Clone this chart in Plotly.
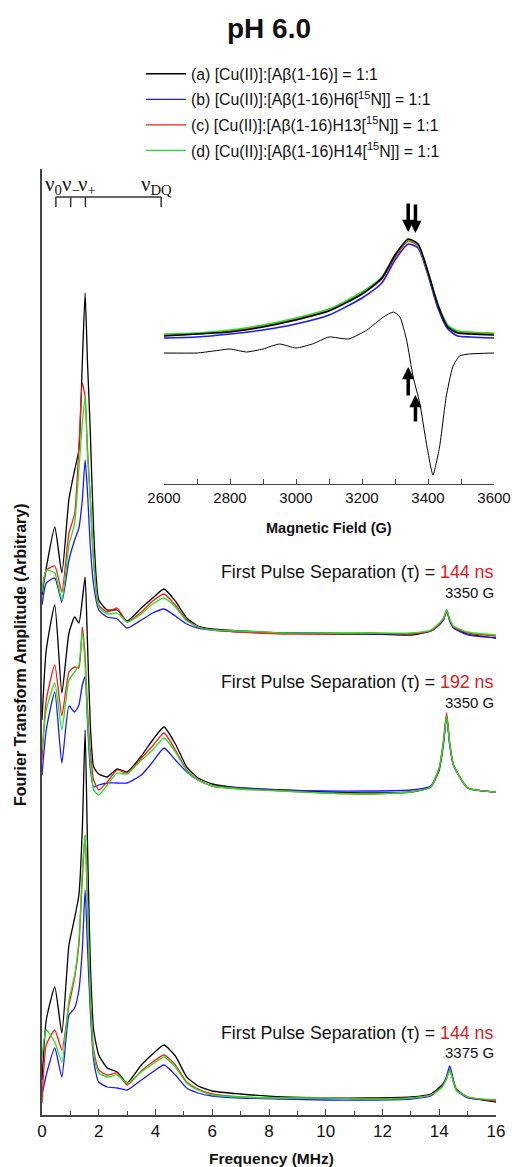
import plotly.graph_objects as go

# ---------------- data (arbitrary amplitude units) ----------------
freq_3350 = [0, 0.15, 0.45, 0.7, 0.95, 1.15, 1.3, 1.42, 1.52, 1.6, 1.7, 1.82, 2.0, 2.3, 2.65, 3.0,
             3.5, 3.9, 4.3, 4.7, 5.1, 5.5, 6.0, 7.0, 8.5, 10.0, 11.5, 13.0, 13.7, 14.0, 14.15, 14.26, 14.37,
             14.5, 15.0, 16.0]
freq_3375 = [0, 0.15, 0.45, 0.7, 0.95, 1.15, 1.3, 1.42, 1.52, 1.6, 1.7, 1.82, 2.0, 2.3, 2.65, 3.0,
             3.5, 3.9, 4.3, 4.7, 5.1, 5.5, 6.0, 7.0, 8.5, 10.0, 11.5, 13.0, 13.7, 14.1, 14.25, 14.37, 14.5,
             14.6, 15.0, 16.0]

# tau = 144 ns, 3350 G
s144_a = [520, 547, 588, 542, 616, 645, 665, 752, 822, 755, 685, 585, 515, 505, 505, 494, 507, 517, 526, 514, 497, 489, 486, 484, 482, 481, 481, 480, 484, 491, 496, 505, 495, 488, 481, 477]
s144_b = [510, 532, 537, 513, 555, 575, 587, 615, 655, 625, 570, 530, 505, 498, 496, 487, 495, 502, 506, 499, 491, 487, 485, 483, 482, 482, 481, 481, 484, 490, 495, 504, 494, 487, 480, 477]
s144_c = [525, 545, 549, 523, 582, 601, 668, 732, 718, 668, 618, 552, 510, 503, 507, 493, 503, 514, 521, 510, 495, 488, 485, 483, 481, 481, 482, 481, 484, 491, 496, 504, 495, 488, 482, 479]
s144_d = [523, 545, 542, 515, 570, 592, 645, 692, 718, 660, 618, 555, 508, 501, 502, 493, 501, 511, 517, 508, 494, 488, 485, 484, 482, 482, 482, 482, 485, 492, 497, 505, 496, 489, 483, 480]

# tau = 192 ns, 3350 G
s192_a = [395, 465, 510, 422, 482, 498, 492, 515, 538, 475, 392, 348, 341, 338, 346, 343, 359, 375, 388, 371, 348, 337, 331, 327, 325, 323, 322, 323, 328, 345, 372, 400, 370, 350, 327, 323]
s192_b = [340, 385, 423, 352, 409, 403, 410, 430, 438, 395, 347, 328, 330, 332, 332, 332, 340, 353, 367, 355, 343, 335, 329, 327, 325, 324, 324, 325, 329, 347, 372, 398, 370, 350, 327, 323]
s192_c = [355, 415, 450, 399, 443, 448, 447, 488, 458, 408, 365, 335, 325, 333, 345, 342, 357, 369, 382, 365, 345, 335, 329, 326, 324, 322, 321, 323, 328, 347, 375, 402, 372, 350, 327, 323]
s192_d = [365, 405, 432, 385, 435, 443, 450, 483, 450, 400, 355, 325, 320, 330, 342, 341, 355, 365, 377, 363, 344, 335, 329, 326, 324, 322, 321, 323, 328, 347, 374, 399, 371, 350, 327, 323]

# tau = 144 ns, 3375 G
s3375_a = [35, 95, 128, 82, 170, 197, 220, 285, 385, 275, 155, 85, 60, 47, 43, 32, 50, 61, 70, 59, 38, 29, 24, 21, 18, 17, 17, 18, 21, 30, 37, 45, 34, 26, 18, 13]
s3375_b = [20, 40, 67, 38, 100, 107, 125, 165, 225, 170, 105, 55, 33, 28, 27, 25, 35, 43, 50, 40, 27, 22, 19, 17, 16, 15, 15, 16, 19, 29, 38, 49, 35, 25, 17, 15]
s3375_c = [12, 70, 85, 65, 110, 137, 170, 235, 280, 215, 125, 65, 45, 40, 42, 30, 44, 53, 60, 50, 33, 26, 21, 18, 17, 17, 16, 17, 20, 28, 36, 45, 33, 25, 18, 14]
s3375_d = [58, 85, 73, 53, 115, 140, 175, 245, 280, 210, 120, 60, 42, 38, 40, 32, 43, 51, 58, 48, 32, 25, 20, 18, 17, 17, 16, 17, 20, 28, 36, 45, 33, 25, 18, 15]

# inset: field-swept echo (absorption) and its derivative
field_abs = [2600, 2700, 2800, 2900, 3000, 3100, 3200, 3260, 3300, 3340, 3370, 3400, 3430, 3460, 3490, 3530, 3600]
abs_a = [148, 150, 152, 157, 164, 173, 190, 206, 229, 245, 240, 212, 179, 157, 151, 150, 149]
abs_b = [146, 147, 150, 154, 160, 169, 186, 201, 224, 240, 236, 209, 176, 155, 148, 147, 146]
abs_c = [149, 150, 153, 158, 165, 174, 190, 205, 227, 243, 238, 211, 179, 158, 152, 151, 150]
abs_d = [150, 151, 154, 159, 166, 175, 192, 207, 229, 244, 239, 212, 180, 159, 153, 152, 151]
field_der = [2600, 2700, 2750, 2800, 2850, 2900, 2950, 3000, 3050, 3100, 3160, 3215, 3265, 3295, 3315,
             3335, 3355, 3375, 3395, 3415, 3435, 3455, 3475, 3495, 3525, 3600]
der_a = [131, 131, 133, 135, 132, 135, 140, 136, 140, 147, 145, 154, 167, 172, 167, 144, 107, 81, 41, 9, 37, 87, 117, 128, 130, 131]

# arrows in inset (field, tail value, head value)
arrow_field = [3340, 3362, 3340, 3362]
arrow_tail = [282, 281, 87, 61]
arrow_head = [252, 251, 117, 89]

nu_names = ["ν<sub>0</sub>", "ν<sub>−</sub>", "ν<sub>+</sub>", "ν<sub>DQ</sub>"]
nu_freqs = [0.49, 1.01, 1.53, 4.2]

series_names = ["(a) [Cu(II)]:[Aβ(1-16)] = 1:1",
                "(b) [Cu(II)]:[Aβ(1-16)H6[<sup>15</sup>N]] = 1:1",
                "(c) [Cu(II)]:[Aβ(1-16)H13[<sup>15</sup>N]] = 1:1",
                "(d) [Cu(II)]:[Aβ(1-16)H14[<sup>15</sup>N]] = 1:1"]
colors = ["#000000", "#1a1aff", "#ff1a1a", "#1ee61e"]

# ---------------- figure ----------------
W, H = 515, 1167
ML, MR, MT, MB = 42, 19, 169, 52
PW, PH = W - ML - MR, H - MT - MB


def px_x(p):
    return (p - ML) / PW


def px_y(p):
    return (H - MB - p) / PH


fig = go.Figure()
FONT = "Liberation Sans, Arial, sans-serif"

spectra = [(freq_3350, [s144_a, s144_b, s144_c, s144_d]),
           (freq_3350, [s192_a, s192_b, s192_c, s192_d]),
           (freq_3375, [s3375_a, s3375_b, s3375_c, s3375_d])]
for si, (fx, group) in enumerate(spectra):
    for k, ys in enumerate(group):
        fig.add_trace(go.Scatter(
            x=fx, y=ys, mode="lines", name=series_names[k],
            line=dict(color=colors[k], width=1.3, shape="spline", smoothing=0.5),
            legendgroup=str(k), showlegend=(si == 0), hoverinfo="skip",
            xaxis="x", yaxis="y"))

# inset
for k in [1, 2, 3, 0]:
    fig.add_trace(go.Scatter(x=field_abs, y=[abs_a, abs_b, abs_c, abs_d][k], mode="lines",
                             line=dict(color=colors[k], width=1.6, shape="spline", smoothing=0.6),
                             showlegend=False, xaxis="x2", yaxis="y2", hoverinfo="skip"))
fig.add_trace(go.Scatter(x=field_der, y=der_a, mode="lines",
                         line=dict(color="#000000", width=1.0, shape="spline", smoothing=0.5),
                         showlegend=False, xaxis="x2", yaxis="y2", hoverinfo="skip"))

for fb, ta, hd in zip(arrow_field, arrow_tail, arrow_head):
    fig.add_annotation(x=fb, y=hd, ax=fb, ay=ta, xref="x2", yref="y2", axref="x2", ayref="y2",
                       text="", showarrow=True, arrowhead=2, arrowsize=0.7, arrowwidth=3.5,
                       arrowcolor="#000000")

# nu bracket
ybr, ytk = 918, 908
fig.add_shape(type="line", x0=nu_freqs[0], x1=nu_freqs[-1], y0=ybr, y1=ybr, xref="x", yref="y",
              line=dict(color="#333", width=1.5))
for f in nu_freqs:
    fig.add_shape(type="line", x0=f, x1=f, y0=ytk, y1=ybr, xref="x", yref="y",
                  line=dict(color="#333", width=1.5))
nu_shift = [-2, 0, 2, -5]
for nm, f, sh in zip(nu_names, nu_freqs, nu_shift):
    fig.add_annotation(x=f, y=930, xref="x", yref="y", text=nm, showarrow=False,
                       xanchor="center", yanchor="middle", xshift=sh,
                       font=dict(family="Liberation Serif, Times New Roman, serif", size=21, color="#111"))

# pulse separation labels
RED = "#e8161b"
labels = [("144 ns", "3350 G", 572, 592), ("192 ns", "3350 G", 682, 702), ("144 ns", "3375 G", 1033, 1052)]
for tau, fld, y1, y2 in labels:
    fig.add_annotation(x=1.0, y=px_y(y1), xref="paper", yref="paper", xanchor="right", yanchor="middle",
                       text=f"First Pulse Separation (τ) = <span style='color:{RED}'>{tau}</span>",
                       showarrow=False, font=dict(family=FONT, size=17.8, color="#111"))
    fig.add_annotation(x=1.0, y=px_y(y2), xref="paper", yref="paper", xanchor="right", yanchor="middle",
                       text=fld, showarrow=False, font=dict(family=FONT, size=15, color="#111"))

# axis titles as annotations
fig.add_annotation(x=px_x(20), y=px_y(655), xref="paper", yref="paper", textangle=-90,
                   xanchor="center", yanchor="middle",
                   text="<b>Fourier Transform Amplitude (Arbitrary)</b>", showarrow=False,
                   font=dict(family=FONT, size=16, color="#111"))
fig.add_annotation(x=px_x(271), y=px_y(1158), xref="paper", yref="paper",
                   xanchor="center", yanchor="middle",
                   text="<b>Frequency (MHz)</b>", showarrow=False,
                   font=dict(family=FONT, size=15.5, color="#111"))
fig.add_annotation(x=px_x(329), y=px_y(528), xref="paper", yref="paper",
                   xanchor="center", yanchor="middle",
                   text="<b>Magnetic Field (G)</b>", showarrow=False,
                   font=dict(family=FONT, size=14.5, color="#111"))

fig.update_layout(
    width=W, height=H, autosize=False, margin=dict(l=ML, r=MR, t=MT, b=MB, autoexpand=False),
    paper_bgcolor="white", plot_bgcolor="white",
    title=dict(text="<b>pH 6.0</b>", x=269 / W, xanchor="center", y=1 - 28 / H, yanchor="middle",
               font=dict(family=FONT, size=28, color="#111")),
    showlegend=True,
    legend=dict(x=px_x(141), y=px_y(57), xanchor="left", yanchor="top", tracegroupgap=2,
                font=dict(family=FONT, size=15.8, color="#111"), bgcolor="rgba(0,0,0,0)",
                itemwidth=40),
    xaxis=dict(range=[0, 16], domain=[0, 1], showline=True, linecolor="#444", linewidth=1.5,
               ticks="inside", ticklen=6, tickwidth=1.3, tickcolor="#444", dtick=2, tick0=0,
               minor=dict(ticks="inside", ticklen=4, dtick=1, tickcolor="#444", tickwidth=1.3),
               showgrid=False, zeroline=False, mirror=False, automargin=False,
               tickfont=dict(family=FONT, size=17, color="#111"), anchor="y"),
    yaxis=dict(range=[0, PH], domain=[0, 1], showline=True, linecolor="#444", linewidth=1.5,
               showticklabels=False, ticks="", showgrid=False, zeroline=False, anchor="x",
               automargin=False),
    xaxis2=dict(range=[2600, 3600], domain=[px_x(164), px_x(494)], anchor="y2",
                showline=True, linecolor="#444", linewidth=1.3, automargin=False,
                ticks="inside", ticklen=5, tickwidth=1.2, tickcolor="#444", dtick=200, tick0=2600,
                minor=dict(ticks="inside", ticklen=5, dtick=100, tickcolor="#444", tickwidth=1.2),
                showgrid=False, zeroline=False,
                tickfont=dict(family=FONT, size=15, color="#111")),
    yaxis2=dict(range=[0, 284], domain=[px_y(484), px_y(200)], anchor="x2", visible=False,
                automargin=False),
)

fig.write_html(
    "out.html",
    config={"responsive": False},
    post_script="document.documentElement.style.overflow='hidden';"
                "document.body.style.overflow='hidden';document.body.style.margin='0';",
)
